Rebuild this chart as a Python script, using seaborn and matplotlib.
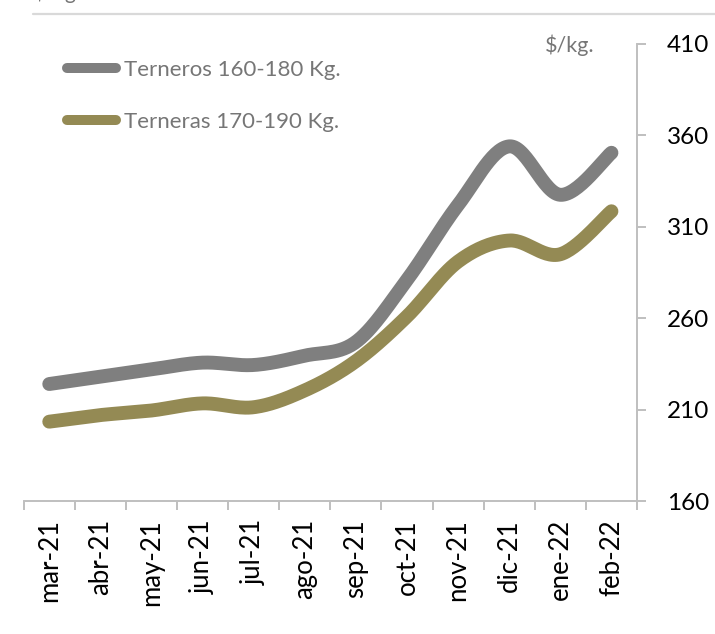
import numpy as np
import pandas as pd
import matplotlib
matplotlib.use("Agg")
import matplotlib.pyplot as plt
import seaborn as sns
from matplotlib.lines import Line2D

months = ["mar-21", "abr-21", "may-21", "jun-21", "jul-21", "ago-21",
          "sep-21", "oct-21", "nov-21", "dic-21", "ene-22", "feb-22"]
terneros = [224.0, 228.0, 232.0, 235.7, 234.4, 239.5, 247.0, 281.0, 322.0, 354.0, 327.5, 350.5]
terneras = [203.4, 207.0, 209.5, 213.4, 211.3, 220.5, 236.5, 261.0, 291.0, 302.5, 295.0, 318.5]
series_names = ["Terneros 160-180 Kg.", "Terneras 170-190 Kg."]
series_colors = ["#7f7f7f", "#948a54"]
yticks = [160, 210, 260, 310, 360, 410]

sns.set_theme(style="white")
plt.rcParams["font.family"] = ["Lato", "DejaVu Sans"]


def smooth(xs, ys, n=30):
    # Excel-style smoothed line: cubic Bezier segments with Catmull-Rom control points
    xs = np.asarray(xs, float)
    ys = np.asarray(ys, float)
    P = np.column_stack([xs, ys])
    out = []
    m = len(P)
    for i in range(m - 1):
        p0 = P[i - 1] if i > 0 else P[i]
        p1 = P[i]
        p2 = P[i + 1]
        p3 = P[i + 2] if i + 2 < m else P[i + 1]
        c1 = p1 + (p2 - p0) / 6.0
        c2 = p2 - (p3 - p1) / 6.0
        t = np.linspace(0, 1, n, endpoint=(i == m - 2))[:, None]
        seg = ((1 - t) ** 3) * p1 + 3 * ((1 - t) ** 2) * t * c1 + 3 * (1 - t) * t ** 2 * c2 + t ** 3 * p2
        out.append(seg)
    out = np.vstack(out)
    return out[:, 0], out[:, 1]


fig = plt.figure(figsize=(7.15, 6.34), dpi=100)
ax = fig.add_axes([23.7 / 715, 1 - 501 / 634, (637 - 23.7) / 715, (501 - 44) / 634])

x_idx = np.arange(len(months))
for name, vals, col in zip(series_names, [terneros, terneras], series_colors):
    sx, sy = smooth(x_idx, vals)
    df = pd.DataFrame({"x": sx, "y": sy})
    sns.lineplot(data=df, x="x", y="y", ax=ax, color=col, linewidth=10,
                 sort=False, estimator=None, solid_capstyle="round", legend=False)

ax.set_xlim(-0.5, len(months) - 0.5)
ax.set_ylim(160, 410)
ax.set_xlabel("")
ax.set_ylabel("")

axis_col = "#bfbfbf"
for s in ["top", "left"]:
    ax.spines[s].set_visible(False)
for s in ["right", "bottom"]:
    ax.spines[s].set_color(axis_col)
    ax.spines[s].set_linewidth(1.4)

ax.yaxis.tick_right()
ax.set_yticks(yticks)
ax.set_yticklabels([str(v) for v in yticks])
ax.tick_params(axis="y", which="major", direction="out", length=6.5, width=1.4,
               color=axis_col, labelsize=17.5, labelcolor="black", pad=15,
               right=True, left=False)

ax.set_xticks(np.arange(-0.5, len(months), 1.0))
ax.set_xticklabels([])
ax.set_xticks(x_idx, minor=True)
ax.set_xticklabels(months, minor=True, rotation=90, fontsize=18.5, color="black")
ax.tick_params(axis="x", which="major", direction="out", length=6.5, width=1.4,
               color=axis_col, bottom=True)
ax.tick_params(axis="x", which="minor", length=0, pad=13, bottom=True)
ax.grid(False)

# legend
handles = [Line2D([0], [0], color=c, linewidth=7.2, solid_capstyle="round") for c in series_colors]
leg = ax.legend(handles, series_names, loc="upper left",
                bbox_to_anchor=(67 / 715, 1 - 60 / 634), bbox_transform=fig.transFigure,
                frameon=False, fontsize=16, handlelength=2.2, handletextpad=0.35,
                labelspacing=1.45, borderaxespad=0, borderpad=0)
for t in leg.get_texts():
    t.set_color("#767676")

# unit label
fig.text(595 / 715, 1 - 52 / 634, "$/kg.", ha="right", va="baseline", fontsize=15.5, color="#767676")

# clipped header remnants at the top
fig.text(33 / 715, 1.0 + 1 / 634, "$/kg", ha="left", va="baseline", fontsize=15, color="#767676")
fig.add_artist(Line2D([33 / 715, 1.0], [1 - 13.5 / 634, 1 - 13.5 / 634],
                      transform=fig.transFigure, color="#d9d9d9", linewidth=1.6))

fig.savefig("out.png", dpi=100)
